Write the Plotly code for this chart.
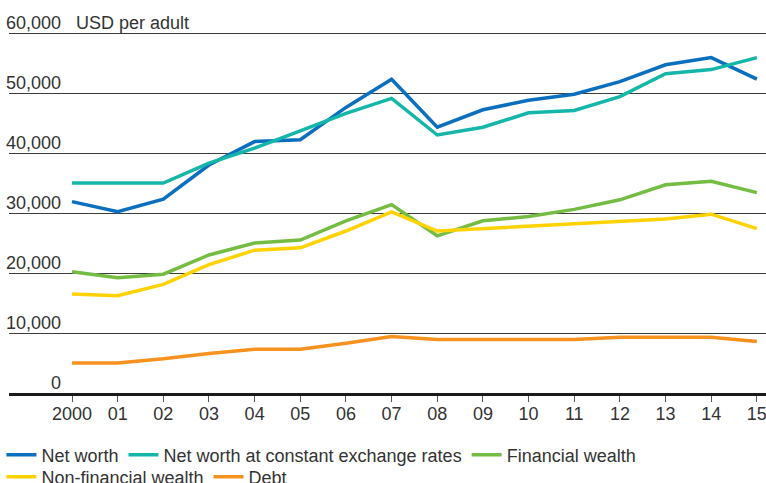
import plotly.graph_objects as go

# Colours
BLUE = "#0b6fbf"
TEAL = "#14b6a9"
GREEN = "#74bd42"
YELLOW = "#ffd200"
ORANGE = "#f7911f"
TEXT = "#333333"
GRID = "#3c3c3c"

FONT = "Liberation Sans, Arial, sans-serif"

# Data (USD per adult)
years = list(range(2000, 2016))
year_labels = ["2000", "01", "02", "03", "04", "05", "06", "07",
               "08", "09", "10", "11", "12", "13", "14", "15"]

net_worth = [31900, 30200, 32300, 38000, 41900, 42200, 47600, 52300,
             44300, 47200, 48800, 49800, 51900, 54700, 55900, 52300]
net_worth_const = [35000, 35000, 35000, 38300, 40800, 43700, 46600, 49100,
                   43000, 44300, 46700, 47100, 49400, 53200, 53900, 55900]
financial = [20200, 19200, 19800, 23000, 25000, 25500, 28700, 31400,
             26200, 28700, 29400, 30600, 32200, 34700, 35300, 33400]
non_financial = [16500, 16200, 18100, 21400, 23800, 24200, 27000, 30200,
                 27000, 27400, 27800, 28200, 28600, 29000, 29800, 27400]
debt = [5000, 5000, 5700, 6600, 7300, 7300, 8300, 9400,
        8900, 8900, 8900, 8900, 9300, 9300, 9300, 8600]

y_ticks = [0, 10000, 20000, 30000, 40000, 50000, 60000]

series = [
    ("Net worth", net_worth, BLUE, "legend"),
    ("Net worth at constant exchange rates", net_worth_const, TEAL, "legend"),
    ("Financial wealth", financial, GREEN, "legend"),
    ("Non-financial wealth", non_financial, YELLOW, "legend2"),
    ("Debt", debt, ORANGE, "legend2"),
]

fig = go.Figure()
for name, values, color, leg in series:
    fig.add_trace(go.Scatter(
        x=years, y=values, name=name, mode="lines",
        line=dict(color=color, width=3.5),
        legend=leg,
    ))

# y tick labels sit above the gridlines, right-aligned
annotations = []
for v in y_ticks:
    annotations.append(dict(
        xref="paper", yref="y", x=0.0713, y=v,
        text=f"{v:,}", showarrow=False,
        xanchor="right", yanchor="bottom", yshift=-2,
        font=dict(family=FONT, size=18, color=TEXT),
    ))
annotations.append(dict(
    xref="paper", yref="y", x=0.0859, y=60000,
    text="USD per adult", showarrow=False,
    xanchor="left", yanchor="bottom", yshift=-2,
    font=dict(family=FONT, size=18, color=TEXT),
))

legend_style = dict(
    orientation="h", xanchor="left", yanchor="top",
    font=dict(family=FONT, size=18, color=TEXT),
    bgcolor="rgba(0,0,0,0)", itemwidth=30,
)

fig.update_layout(
    width=766, height=483,
    margin=dict(l=9, r=0, t=27, b=90, autoexpand=False),
    plot_bgcolor="white", paper_bgcolor="white",
    font=dict(family=FONT, size=18, color=TEXT),
    xaxis=dict(
        range=[1998.62, 2015.2],
        tickvals=years, ticktext=year_labels,
        ticks="outside", ticklen=6, tickcolor="#555555", tickwidth=1,
        ticklabelstandoff=-4, ticklabeloverflow="allow",
        showgrid=False, zeroline=False,
        showline=True, linecolor="#1a1a1a", linewidth=3,
        tickfont=dict(family=FONT, size=18, color=TEXT),
    ),
    yaxis=dict(
        range=[0, 61000],
        tickvals=y_ticks, showticklabels=False,
        showgrid=True, gridcolor=GRID, gridwidth=1.3,
        zeroline=False, showline=False,
    ),
    legend=dict(x=-0.01, y=-0.119, **legend_style),
    legend2=dict(x=-0.01, y=-0.179, **legend_style),
    annotations=annotations,
    showlegend=True,
)

# remove the page's default body margin so the chart fills the window
fig.write_html("out.html", config={"displayModeBar": False},
               post_script="document.body.style.margin='0';")
